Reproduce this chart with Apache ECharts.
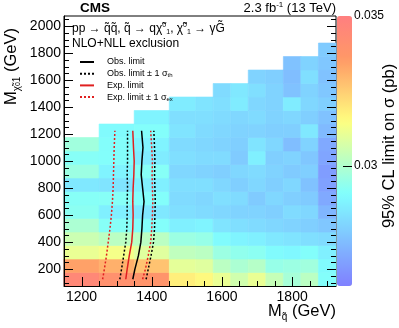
<!DOCTYPE html>
<html>
<head>
<meta charset="utf-8">
<script src="https://cdn.jsdelivr.net/npm/echarts@6/dist/echarts.min.js"></script>
<style>
  html, body { margin: 0; padding: 0; background: #fff; }
  #chart { width: 399px; height: 328px; }
</style>
</head>
<body>
<div id="chart"></div>
<script>
// squark mass bins (GeV)
const binLow  = [1150, 1250, 1350, 1450, 1525, 1575, 1625, 1675, 1725, 1775, 1825, 1875];
const binHigh = [1250, 1350, 1450, 1525, 1575, 1625, 1675, 1725, 1775, 1825, 1875, 1925];
// neutralino mass bins: first bin starts at 75 GeV, 100 GeV wide
const rowStart = 75;
const rowStep = 100;

// 95% CL upper limit on sigma (pb), one list per squark bin, lowest neutralino mass first
const lim1200 = [0.0345, 0.0334, 0.0311, 0.0305, 0.0299, 0.0293, 0.0292, 0.0285, 0.0296, 0.0292, 0.0297];
const lim1300 = [0.0340, 0.0331, 0.0313, 0.0302, 0.0292, 0.0287, 0.0292, 0.0284, 0.0288, 0.0291, 0.0291, 0.0290];
const lim1400 = [0.0338, 0.0327, 0.0309, 0.0302, 0.0291, 0.0285, 0.0291, 0.0287, 0.0292, 0.0286, 0.0288, 0.0291, 0.0288];
const lim1490 = [0.0318, 0.0310, 0.0303, 0.0296, 0.0287, 0.0283, 0.0282, 0.0283, 0.0281, 0.0283, 0.0282, 0.0284, 0.0283, 0.0286];
const lim1550 = [0.0316, 0.0309, 0.0302, 0.0295, 0.0288, 0.0282, 0.0281, 0.0283, 0.0280, 0.0282, 0.0281, 0.0282, 0.0283, 0.0284];
const lim1600 = [0.0311, 0.0302, 0.0296, 0.0290, 0.0284, 0.0281, 0.0283, 0.0281, 0.0279, 0.0282, 0.0280, 0.0281, 0.0282, 0.0283, 0.0282];
const lim1650 = [0.0306, 0.0299, 0.0294, 0.0288, 0.0283, 0.0280, 0.0282, 0.0279, 0.0281, 0.0278, 0.0279, 0.0280, 0.0281, 0.0286, 0.0285];
const lim1700 = [0.0311, 0.0301, 0.0293, 0.0287, 0.0282, 0.0280, 0.0278, 0.0281, 0.0282, 0.0287, 0.0284, 0.0280, 0.0282, 0.0281, 0.0283, 0.0280];
const lim1750 = [0.0304, 0.0295, 0.0290, 0.0285, 0.0281, 0.0279, 0.0281, 0.0279, 0.0280, 0.0279, 0.0281, 0.0279, 0.0280, 0.0280, 0.0280, 0.0279];
const lim1800 = [0.0298, 0.0296, 0.0289, 0.0284, 0.0280, 0.0282, 0.0279, 0.0281, 0.0278, 0.0280, 0.0275, 0.0279, 0.0281, 0.0286, 0.0276, 0.0275, 0.0276];
const lim1850 = [0.0302, 0.0297, 0.0291, 0.0283, 0.0279, 0.0281, 0.0278, 0.0276, 0.0279, 0.0277, 0.0280, 0.0285, 0.0279, 0.0281, 0.0280, 0.0283, 0.0280];
const lim1900 = [0.0291, 0.0290, 0.0287, 0.0282, 0.0277, 0.0273, 0.0270, 0.0268, 0.0267, 0.0269, 0.0270, 0.0274, 0.0276, 0.0279, 0.0277, 0.0276, 0.0277, 0.0278];
const limits = [lim1200, lim1300, lim1400, lim1490, lim1550, lim1600, lim1650, lim1700, lim1750, lim1800, lim1850, lim1900];

// exclusion contours: squark mass at each neutralino mass
const contourMass = [125, 200, 300, 400, 500, 600, 700, 800, 900, 1000, 1100, 1225];
const obsLimit    = [1346, 1352, 1362, 1369, 1372, 1374, 1378, 1374, 1370, 1372, 1375, 1371];
const obsMinus    = [1309, 1314, 1320, 1326, 1329, 1330, 1330, 1331, 1330, 1331, 1331, 1331];
const obsPlus     = [1384, 1390, 1398, 1405, 1408, 1409, 1410, 1409, 1408, 1409, 1408, 1406];
const expLimit    = [1326, 1330, 1336, 1343, 1346, 1347, 1346, 1347, 1349, 1350, 1348, 1346];
const expMinus    = [1260, 1265, 1271, 1276, 1281, 1285, 1288, 1290, 1291, 1292, 1293, 1295];
const expPlus     = [1374, 1382, 1390, 1397, 1400, 1402, 1403, 1402, 1401, 1402, 1400, 1397];

// axes
const xTicks = [1200, 1400, 1600, 1800];
const yTicks = [200, 400, 600, 800, 1000, 1200, 1400, 1600, 1800, 2000];
const zTicks = [0.03, 0.035];
const zMin = 0.026, zMax = 0.035;
const xMin = 1150, xMax = 1925, yMin = 75, yMax = 2075;

// CMS SUSY colour palette
const palStops = [0, 0.34, 0.61, 0.84, 1];
const palR = [0.5, 0.5, 1, 1, 1];
const palG = [0.5, 1, 1, 0.6, 0.5];
const palB = [1, 1, 0.5, 0.4, 0.5];

function palette(n) {
  const out = [];
  for (let i = 0; i < n; i++) {
    const t = i / (n - 1);
    let j = 0;
    while (j < palStops.length - 2 && t > palStops[j + 1]) j++;
    const f = (t - palStops[j]) / (palStops[j + 1] - palStops[j]);
    const c = [palR, palG, palB].map(a => Math.round(255 * (a[j] + f * (a[j + 1] - a[j]))));
    out.push('rgb(' + c.join(',') + ')');
  }
  return out;
}

function range(a, b, step) {
  const r = [];
  for (let v = a; v <= b; v += step) r.push(v);
  return r;
}

const cells = [];
limits.forEach((col, i) => {
  col.forEach((v, k) => {
    cells.push([binLow[i], binHigh[i], rowStart + k * rowStep, rowStart + (k + 1) * rowStep, v]);
  });
});

// tick marks: [0 = bottom edge / 1 = left and right edges, value, major?]
const tickMarks = [];
range(1200, 1900, 50).forEach(v => tickMarks.push([0, v, xTicks.includes(v) ? 1 : 0]));
range(100, 2050, 50).forEach(v => tickMarks.push([1, v, yTicks.includes(v) ? 1 : 0]));

const pairs = xs => xs.map((x, i) => [x, contourMass[i]]);

const FONT = 'Liberation Sans';
const chart = echarts.init(document.getElementById('chart'));

const lineSeries = (name, xs, color, dotted) => ({
  type: 'line', name: name, data: pairs(xs), symbol: 'none', z: 5,
  xAxisIndex: 0, yAxisIndex: 0,
  lineStyle: { color: color, width: 1.5, type: dotted ? [2, 2] : 'solid' },
  itemStyle: { color: color }
});

const tickStyle = { stroke: '#000', lineWidth: 1, fill: null };

chart.setOption({
  animation: false,
  textStyle: { fontFamily: FONT },
  grid: [
    { left: 64, top: 16, width: 272, height: 270, show: true, borderColor: '#000', borderWidth: 1, backgroundColor: 'transparent' },
    { left: 337, top: 16, width: 15, height: 270, show: false }
  ],
  xAxis: [
    {
      type: 'value', min: xMin, max: xMax, position: 'bottom', z: 10,
      splitLine: { show: false },
      axisLine: { show: true, onZero: false, lineStyle: { color: '#000', width: 1 } },
      axisTick: { show: false },
      axisLabel: { customValues: xTicks, fontSize: 14, color: '#000', margin: 4, fontFamily: FONT, formatter: v => String(v) }
    },
    { gridIndex: 1, type: 'value', show: false, min: 0, max: 1 }
  ],
  yAxis: [
    {
      type: 'value', min: yMin, max: yMax, position: 'left', z: 10,
      splitLine: { show: false },
      axisLine: { show: true, onZero: false, lineStyle: { color: '#000', width: 1 } },
      axisTick: { show: false },
      axisLabel: { customValues: yTicks, fontSize: 14, color: '#000', margin: 3, fontFamily: FONT, formatter: v => String(v) }
    },
    {
      gridIndex: 1, type: 'value', min: zMin, max: zMax, position: 'right', z: 10,
      splitLine: { show: false }, axisLine: { show: false }, axisTick: { show: false },
      axisLabel: { customValues: zTicks, fontSize: 12, color: '#000', margin: 2, fontFamily: FONT,
        formatter: v => String(+(+v).toFixed(3)) }
    }
  ],
  visualMap: {
    type: 'continuous', min: zMin, max: zMax, dimension: 4, seriesIndex: 0,
    calculable: false, realtime: false, hoverLink: false, z: 2,
    left: 337, top: 16, itemWidth: 15, itemHeight: 270, padding: 0, text: null,
    inRange: { color: palette(41) }
  },
  legend: {
    left: 74, top: 52, orient: 'vertical', itemWidth: 14, itemHeight: 8, itemGap: 1.7,
    selectedMode: false,
    itemStyle: { opacity: 0 },
    data: ['Obs. limit', 'Obs. limit ± 1 σth', 'Exp. limit', 'Exp. limit ± 1 σex'],
    formatter: n => n.replace('σth', 'σ{sb|th}').replace('σex', 'σ{sb|ex}'),
    textStyle: {
      fontSize: 9, color: '#000', fontFamily: FONT, padding: [0, 0, 0, 8], lineHeight: 10,
      rich: { sb: { fontSize: 6, lineHeight: 6, verticalAlign: 'bottom', fontFamily: FONT, color: '#000' } }
    }
  },
  series: [
    {
      type: 'custom', name: 'limit', xAxisIndex: 0, yAxisIndex: 0, z: 1,
      data: cells,
      encode: { x: [0, 1], y: [2, 3] },
      renderItem: (params, api) => {
        const p0 = api.coord([api.value(0), api.value(3)]);
        const p1 = api.coord([api.value(1), api.value(2)]);
        const c = api.visual('color');
        return {
          type: 'rect',
          shape: { x: p0[0], y: p0[1], width: p1[0] - p0[0], height: p1[1] - p0[1] },
          style: { fill: c, stroke: c, lineWidth: 0.6 }
        };
      }
    },
    lineSeries('Obs. limit', obsLimit, '#000', false),
    lineSeries('Obs. limit ± 1 σth', obsMinus, '#000', true),
    lineSeries('Obs. limit ± 1 σth', obsPlus, '#000', true),
    lineSeries('Exp. limit', expLimit, '#e02020', false),
    lineSeries('Exp. limit ± 1 σex', expMinus, '#e02020', true),
    lineSeries('Exp. limit ± 1 σex', expPlus, '#e02020', true),
    {
      // frame tick marks, placed through the axes' scales
      type: 'custom', name: 'ticks', xAxisIndex: 0, yAxisIndex: 0, z: 30, silent: true,
      data: tickMarks,
      encode: { x: 1, y: 1 },
      renderItem: (params, api) => {
        const cs = params.coordSys;
        const len = api.value(2) ? 9 : 5;
        if (api.value(0) === 0) {
          const px = Math.round(api.coord([api.value(1), yMin])[0]) + 0.5;
          const yb = cs.y + cs.height;
          return { type: 'line', shape: { x1: px, y1: yb, x2: px, y2: yb - len }, style: tickStyle };
        }
        const py = Math.round(api.coord([xMin, api.value(1)])[1]) + 0.5;
        const xl = cs.x, xr = cs.x + cs.width;
        return {
          type: 'group',
          children: [
            { type: 'line', shape: { x1: xl, y1: py, x2: xl + len, y2: py }, style: tickStyle },
            { type: 'line', shape: { x1: xr, y1: py, x2: xr - len, y2: py }, style: tickStyle }
          ]
        };
      }
    }
  ]
});

// texts
const texts = [
  { type: 'text', z: 20, style: { x: 80, y: 8, text: 'CMS', fontSize: 13.5, fontWeight: 'bold', fontFamily: FONT, fill: '#000', verticalAlign: 'middle' } },
  { type: 'text', z: 20, style: { x: 336, y: 8, align: 'right', verticalAlign: 'middle', fill: '#000',
    text: '2.3 fb{sp|-1} (13 TeV)', fontSize: 13, fontFamily: FONT, lineHeight: 14,
    rich: { sp: { fontSize: 8, lineHeight: 8, verticalAlign: 'top', fontFamily: FONT, fill: '#000' } } } },
  { type: 'text', z: 20, style: { x: 72, y: 29, verticalAlign: 'middle', fill: '#000',
    text: 'pp → q̃q̃, q̃ → qχ̃{sp|0}{sb|1}, χ̃{sp|0}{sb|1} → γG̃', fontSize: 12, fontFamily: FONT, lineHeight: 14,
    rich: {
      sp: { fontSize: 7, lineHeight: 7, verticalAlign: 'top', fontFamily: FONT, fill: '#000' },
      sb: { fontSize: 7, lineHeight: 7, verticalAlign: 'bottom', fontFamily: FONT, fill: '#000' }
    } } },
  { type: 'text', z: 20, style: { x: 72, y: 44, verticalAlign: 'middle', fill: '#000', text: 'NLO+NLL exclusion', fontSize: 12, fontFamily: FONT } },
  { type: 'text', z: 20, style: { x: 336, y: 311, align: 'right', verticalAlign: 'middle', fill: '#000',
    text: 'M{sb|q̃} (GeV)', fontSize: 16.5, fontFamily: FONT, lineHeight: 22,
    rich: { sb: { fontSize: 10, lineHeight: 12, verticalAlign: 'bottom', fontFamily: FONT, fill: '#000' } } } },
  { type: 'text', z: 20, x: 11, y: 28, rotation: Math.PI / 2, style: { x: 0, y: 0, align: 'right', verticalAlign: 'middle', fill: '#000',
    text: 'M{sb|χ̃}{ss|0}{sb|1} (GeV)', fontSize: 16.5, fontFamily: FONT, lineHeight: 22,
    rich: {
      sb: { fontSize: 10, lineHeight: 12, verticalAlign: 'bottom', fontFamily: FONT, fill: '#000' },
      ss: { fontSize: 7, lineHeight: 20, verticalAlign: 'bottom', fontFamily: FONT, fill: '#000' }
    } } },
  { type: 'text', z: 20, x: 389, y: 146, rotation: Math.PI / 2, style: { x: 0, y: 0, align: 'center', verticalAlign: 'middle', fill: '#000',
    text: '95% CL limit on σ (pb)', fontSize: 16.5, fontFamily: FONT } }
];

// colour bar tick at 0.03
const zTickY = Math.round(chart.convertToPixel({ yAxisIndex: 1 }, 0.03)) + 0.5;
const zTick = { type: 'line', z: 15, silent: true,
  shape: { x1: 352, y1: zTickY, x2: 343, y2: zTickY }, style: { stroke: '#000', lineWidth: 1 } };

chart.setOption({ graphic: texts.concat([zTick]) });
</script>
</body>
</html>
